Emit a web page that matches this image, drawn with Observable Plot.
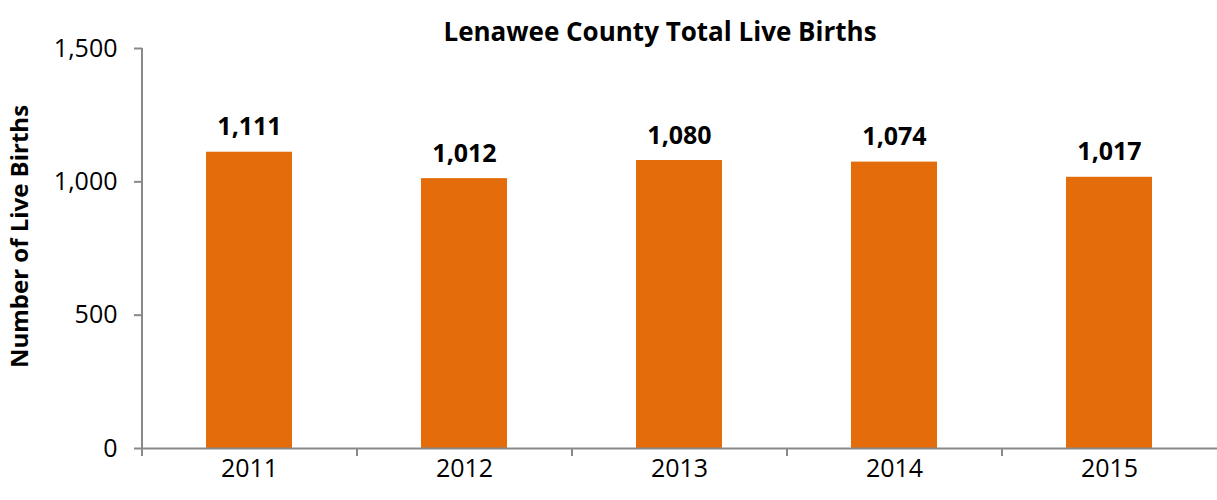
<!DOCTYPE html>
<html>
<head>
<meta charset="utf-8">
<script src="https://cdn.jsdelivr.net/npm/d3@7"></script>
<script src="https://cdn.jsdelivr.net/npm/@observablehq/plot@0.6"></script>
<style>
  html, body { margin: 0; padding: 0; background: #fff; }
  #chart svg { display: block; }
</style>
</head>
<body>
<div id="chart"></div>
<script>
const title = "Lenawee County Total Live Births";
const yLabel = "Number of Live Births";
const years = ["2011", "2012", "2013", "2014", "2015"];
const births = [1111, 1012, 1080, 1074, 1017];
const yTicks = [0, 500, 1000, 1500];

const data = years.map((y, i) => ({year: y, value: births[i]}));
const axisGray = "#898989";
const font = "'Open Sans', sans-serif";
const fmt = d3.format(",");

const chart = Plot.plot({
  width: 1217,
  height: 500,
  marginTop: 48,
  marginBottom: 52,
  marginLeft: 142,
  marginRight: 0,
  style: {fontFamily: font, background: "#fff", color: "#000"},
  x: {domain: years, paddingInner: 0.6, paddingOuter: 0.3},
  y: {domain: [0, 1500]},
  marks: [
    Plot.barY(data, {x: "year", y: "value", fill: "#E46C0A"}),
    Plot.ruleY([0], {stroke: axisGray, strokeWidth: 2}),
    Plot.ruleX(years.slice(0, 1), {x: d => d, y1: -30, y2: 1500, dx: -107.5, stroke: axisGray, strokeWidth: 2}),
    Plot.ruleX(years.slice(1), {x: d => d, y1: 0, y2: -30, dx: -107.5, stroke: axisGray, strokeWidth: 2}),
    Plot.axisY({ticks: yTicks, tickFormat: fmt, tickSize: 8, tickPadding: 17, fontSize: 25, stroke: axisGray, strokeWidth: 2, label: null, color: "#000"}),
    Plot.axisX({tickSize: 0, tickPadding: 11, fontSize: 25, label: null}),
    Plot.text(data, {x: "year", y: "value", text: d => fmt(d.value), dy: -25, fontSize: 25, fontWeight: "bold", fill: "#000"}),
    Plot.text([title], {frameAnchor: "top", dy: -26, dx: -20, fontSize: 26, fontWeight: "bold", fill: "#000"}),
    Plot.text([yLabel], {frameAnchor: "left", textAnchor: "middle", rotate: -90, dx: -122, dy: -12, fontSize: 24, fontWeight: "bold", fill: "#000"})
  ]
});
document.getElementById("chart").appendChild(chart);
</script>
</body>
</html>
